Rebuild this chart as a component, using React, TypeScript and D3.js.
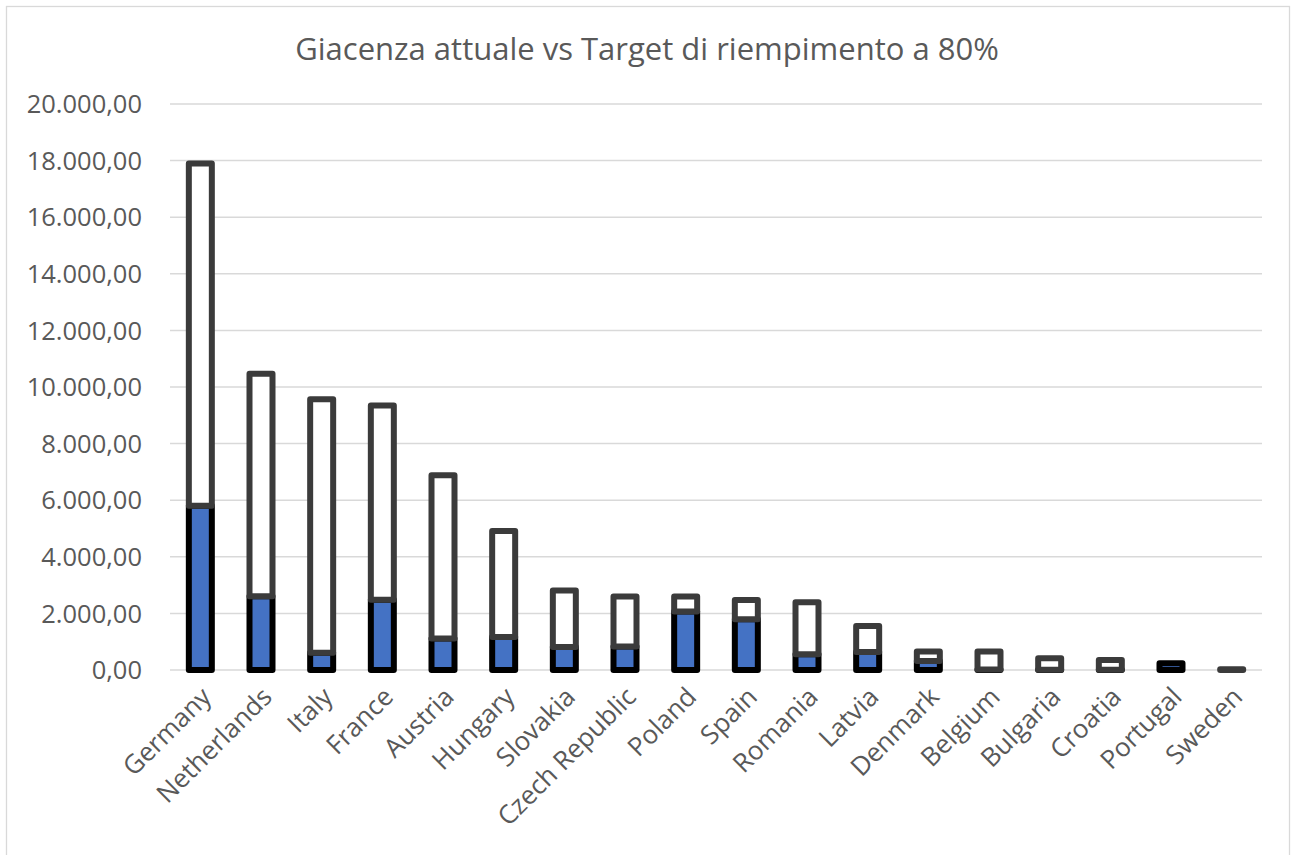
import React from "react";
import * as d3 from "d3";

const countries = [
  "Germany", "Netherlands", "Italy", "France", "Austria", "Hungary", "Slovakia",
  "Czech Republic", "Poland", "Spain", "Romania", "Latvia", "Denmark", "Belgium",
  "Bulgaria", "Croatia", "Portugal", "Sweden",
];
// Giacenza attuale (stored now)
const actual = [5800, 2610, 610, 2480, 1110, 1170, 810, 830, 2070, 1790, 555, 640, 320, 15, 10, 10, 240, 0];
// Target di riempimento a 80%
const target = [17900, 10470, 9570, 9350, 6880, 4915, 2805, 2595, 2595, 2475, 2395, 1555, 650, 650, 415, 355, 240, 30];
const yTicks = [0, 2000, 4000, 6000, 8000, 10000, 12000, 14000, 16000, 18000, 20000];
const title = "Giacenza attuale vs Target di riempimento a 80%";

const W = 1291;
const H = 855;
const plotLeft = 170;
const plotRight = 1262;
const plotTop = 104;
const plotBottom = 670;

const fmt = (v: number) => {
  const s = d3.format(",.2f")(v);
  return s.replace(/,/g, "#").replace(/\./g, ",").replace(/#/g, ".");
};

export default function App() {
  const x = d3.scaleBand<string>().domain(countries).range([plotLeft, plotRight]).paddingInner(0).paddingOuter(0);
  const y = d3.scaleLinear().domain([0, 20000]).range([plotBottom, plotTop]);
  const bw = 23;
  const font = "'Open Sans', 'Liberation Sans', sans-serif";
  const textColor = "#595959";

  return (
    <svg width={W} height={H} style={{ position: "absolute", left: 0, top: 0, background: "#fff" }}>
      <rect x={6.5} y={6.5} width={1283} height={900} fill="#fff" stroke="#d9d9d9" strokeWidth={1.3} />
      <text x={647} y={60} textAnchor="middle" fontFamily={font} fontSize={31} fill={textColor}>
        {title}
      </text>
      {yTicks.map((t) => (
        <g key={t}>
          <line x1={plotLeft} x2={plotRight} y1={y(t)} y2={y(t)} stroke="#d9d9d9" strokeWidth={1.5} />
          <text x={142} y={y(t)} dy="0.36em" textAnchor="end" fontFamily={font} fontSize={25.5} fill={textColor}>
            {fmt(t)}
          </text>
        </g>
      ))}
      {countries.map((c, i) => {
        const cx = (x(c) as number) + x.bandwidth() / 2;
        const a = actual[i];
        const rem = Math.max(0, target[i] - a);
        const tTop = y(a + rem);
        return (
          <g key={c}>
            {a > 0 && (
              <rect x={cx - bw / 2} y={y(a)} width={bw} height={y(0) - y(a)} fill="#4472c4" stroke="#000" strokeWidth={6} strokeLinejoin="round" />
            )}
            {rem > 0 && (
              <rect x={cx - bw / 2} y={tTop} width={bw} height={y(a) - tTop} fill="#fff" stroke="#3b3b3b" strokeWidth={6} strokeLinejoin="round" />
            )}
          </g>
        );
      })}
      {countries.map((c) => {
        const cx = (x(c) as number) + x.bandwidth() / 2;
        return (
          <text key={c} transform={`translate(${cx + 6},${692}) rotate(-45)`} textAnchor="end" dy="0.35em" fontFamily={font} fontSize={26} fill={textColor}>
            {c}
          </text>
        );
      })}
    </svg>
  );
}
